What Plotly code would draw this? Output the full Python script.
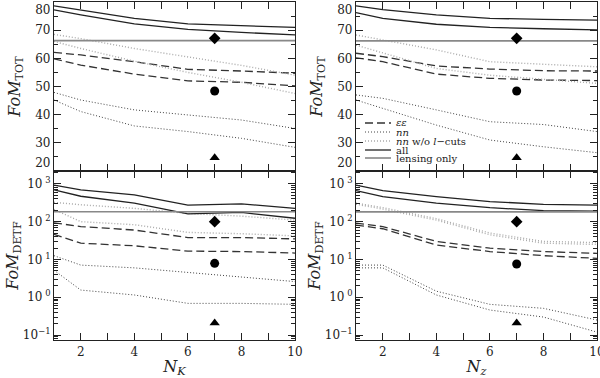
import plotly.graph_objects as go
from plotly.subplots import make_subplots

# ---------------------------------------------------------------
# data (N = 1, 2, 4, 6, 8, 10)
n_bins = [1, 2, 4, 6, 8, 10]
x_marker = [7]

# FoM_TOT vs N_K
tot_k_ee_hi = [62.1, 61.2, 58.8, 56.1, 55.5, 54.7]
tot_k_ee_lo = [59.8, 57.6, 54.4, 52.0, 51.5, 50.2]
tot_k_nn_hi = [47.9, 45.2, 41.7, 39.9, 38.1, 35.1]
tot_k_nn_lo = [45.2, 41.1, 36.0, 34.0, 31.6, 28.4]
tot_k_nnw_hi = [68.5, 67.0, 63.5, 60.5, 57.5, 54.0]
tot_k_nnw_lo = [66.0, 63.5, 59.0, 55.0, 51.5, 47.5]
tot_k_all_hi = [78.6, 77.2, 74.2, 72.2, 71.6, 71.0]
tot_k_all_lo = [77.2, 75.4, 72.2, 70.3, 69.2, 68.3]
tot_k_lens = 66.3

# FoM_TOT vs N_z
tot_z_ee_hi = [61.8, 60.6, 57.3, 56.2, 55.6, 55.5]
tot_z_ee_lo = [60.2, 58.8, 54.4, 52.9, 52.3, 52.1]
tot_z_nn_hi = [47.0, 45.8, 41.7, 37.5, 36.5, 34.0]
tot_z_nn_lo = [45.2, 42.2, 36.3, 31.0, 28.6, 26.5]
tot_z_nnw_hi = [68.3, 66.5, 63.0, 58.8, 58.0, 57.0]
tot_z_nnw_lo = [64.7, 62.0, 56.4, 54.0, 52.5, 51.1]
tot_z_all_hi = [78.6, 77.3, 75.4, 74.2, 73.8, 73.6]
tot_z_all_lo = [76.2, 74.2, 72.1, 71.0, 70.5, 70.1]
tot_z_lens = 66.2

# single-point markers (diamond, circle, triangle) at N = 7
tot_pts = [67.1, 48.4, 24.7]

# FoM_DETF vs N_K
detf_k_ee_hi = [93, 74, 60, 38, 38, 35]
detf_k_ee_lo = [46, 27, 23, 16.6, 16.2, 14.8]
detf_k_nn_hi = [12.6, 7.1, 6.0, 4.6, 3.5, 2.6]
detf_k_nn_lo = [5.2, 1.55, 1.15, 0.69, 0.69, 0.65]
detf_k_nnw_hi = [325, 280, 225, 165, 140, 110]
detf_k_nnw_lo = [210, 100, 83, 52, 48, 42]
detf_k_all_hi = [930, 690, 510, 275, 295, 225]
detf_k_all_lo = [690, 470, 310, 160, 175, 123]
detf_k_lens = 183

# FoM_DETF vs N_z
detf_z_ee_hi = [91, 74, 30, 20, 16.2, 14.5]
detf_z_ee_lo = [81, 65, 24, 16.2, 12.6, 10.7]
detf_z_nn_hi = [7.1, 7.1, 1.45, 0.65, 0.51, 0.25]
detf_z_nn_lo = [6.0, 6.0, 1.15, 0.46, 0.30, 0.12]
detf_z_nnw_hi = [310, 235, 120, 50, 30, 28]
detf_z_nnw_lo = [290, 215, 110, 45, 27, 25]
detf_z_all_hi = [930, 660, 457, 340, 288, 275]
detf_z_all_lo = [660, 457, 310, 234, 195, 190]
detf_z_lens = 182

detf_pts_k = [100, 7.9, 0.21]
detf_pts_z = [100, 7.6, 0.21]

tot_ticks = [20, 30, 40, 50, 60, 70, 80]
tot_ticktext = ["20<br> ", "30", "40", "50", "60", "70", " <br>80"]
detf_ticks = [0.1, 1, 10, 100, 1000]
detf_ticktext = ["10<sup>−1</sup>", "10<sup> 0</sup>", "10<sup> 1</sup>",
                 "10<sup> 2</sup>", "10<sup> 3</sup>"]
x_ticks = [2, 4, 6, 8, 10]

legend_labels = ["<i>εε</i>", "<i>nn</i>", "<i>nn</i> w/o <i>l</i>−cuts",
                 "all", "lensing only"]

# ---------------------------------------------------------------
FONT = "DejaVu Serif"
INK = "#222222"
st_dash = dict(color="#333333", width=1.3, dash="8px,4px")
st_dot = dict(color="#444444", width=1.0, dash="1px,2px")
st_gdot = dict(color="#aaaaaa", width=1.4, dash="1px,2px")
st_all = dict(color=INK, width=1.3)
st_lens = dict(color="#888888", width=1.6)
legend_styles = [st_dash, st_dot, st_gdot, st_all, st_lens]

fig = make_subplots(rows=2, cols=2, vertical_spacing=0, horizontal_spacing=0.1)


def add_panel(r, c, ee, nn, nnw, alls, lens, pts):
    for ys, st in ((ee, st_dash), (nn, st_dot), (nnw, st_gdot), (alls, st_all)):
        for y in ys:
            fig.add_trace(go.Scatter(x=n_bins, y=y, mode="lines", line=st,
                                     showlegend=False, hoverinfo="skip"),
                          row=r, col=c)
    fig.add_trace(go.Scatter(x=[n_bins[0], n_bins[-1]], y=[lens, lens],
                             mode="lines", line=st_lens, showlegend=False),
                  row=r, col=c)
    for y, sym in zip(pts, ["diamond", "circle", "triangle-up"]):
        fig.add_trace(go.Scatter(x=x_marker, y=[y], mode="markers",
                                 marker=dict(symbol=sym, size=9, color="black"),
                                 showlegend=False), row=r, col=c)


add_panel(1, 1, (tot_k_ee_hi, tot_k_ee_lo), (tot_k_nn_hi, tot_k_nn_lo),
          (tot_k_nnw_hi, tot_k_nnw_lo), (tot_k_all_hi, tot_k_all_lo),
          tot_k_lens, tot_pts)
add_panel(1, 2, (tot_z_ee_hi, tot_z_ee_lo), (tot_z_nn_hi, tot_z_nn_lo),
          (tot_z_nnw_hi, tot_z_nnw_lo), (tot_z_all_hi, tot_z_all_lo),
          tot_z_lens, tot_pts)
add_panel(2, 1, (detf_k_ee_hi, detf_k_ee_lo), (detf_k_nn_hi, detf_k_nn_lo),
          (detf_k_nnw_hi, detf_k_nnw_lo), (detf_k_all_hi, detf_k_all_lo),
          detf_k_lens, detf_pts_k)
add_panel(2, 2, (detf_z_ee_hi, detf_z_ee_lo), (detf_z_nn_hi, detf_z_nn_lo),
          (detf_z_nnw_hi, detf_z_nnw_lo), (detf_z_all_hi, detf_z_all_lo),
          detf_z_lens, detf_pts_z)

# ---------------------------------------------------------------
# axes (pixel layout)
W, H = 600, 378
ml, mr, mt, mb = 54, 3, 2, 38
pw, ph = W - ml - mr, H - mt - mb
xl = [0, (295 - ml) / pw]
xr = [(356 - ml) / pw, 1]
ysplit = (H - mb - 171) / ph
yt = [ysplit, 1]
yb = [0, ysplit]

common = dict(showline=True, linecolor=INK, linewidth=1.2, mirror="ticks",
              ticks="inside", tickcolor=INK, showgrid=False, zeroline=False,
              automargin=False, ticklabeloverflow="allow",
              tickfont=dict(family=FONT, size=12, color=INK))

xcommon = dict(common, range=[1, 10], tickvals=x_ticks, ticklen=7,
               minor=dict(dtick=1, ticks="inside", ticklen=7, tickcolor=INK))

fig.update_xaxes(xcommon)
xtitle_font = dict(family=FONT, size=16, color=INK)
fig.update_layout(
    xaxis=dict(domain=xl, showticklabels=False),
    xaxis2=dict(domain=xr, showticklabels=False),
    xaxis3=dict(domain=xl, title=dict(text="<i>N<sub>K</sub></i>", standoff=0,
                                      font=xtitle_font)),
    xaxis4=dict(domain=xr, title=dict(text="<i>N<sub>z</sub></i>", standoff=0,
                                      font=xtitle_font)),
)

ytitle_tot = dict(text="<i>FoM</i><sub>TOT</sub>", standoff=10,
                  font=dict(family=FONT, size=16, color=INK))
ytitle_detf = dict(text="<i>FoM</i><sub>DETF</sub>", standoff=0,
                   font=dict(family=FONT, size=16, color=INK))

ytot = dict(common, range=[20, 80], tickvals=tot_ticks, ticktext=tot_ticktext,
            ticklen=7,
            minor=dict(dtick=5, ticks="inside", ticklen=4, tickcolor=INK))
ydetf = dict(common, type="log", range=[-1.13, 3.34], tickvals=detf_ticks,
             ticktext=detf_ticktext, ticklen=7,
             minor=dict(ticks="inside", ticklen=4, tickcolor=INK, dtick="D1"))

fig.update_layout(
    yaxis=dict(ytot, domain=yt, title=ytitle_tot),
    yaxis2=dict(ytot, domain=yt, title=ytitle_tot),
    yaxis3=dict(ydetf, domain=yb, title=ytitle_detf),
    yaxis4=dict(ydetf, domain=yb, title=ytitle_detf),
)

# legend drawn in the upper-right panel
leg_x0, leg_x1, leg_tx = 365, 391, 394
leg_rows = [123, 132, 141, 150, 158]
for lab, st, py in zip(legend_labels, legend_styles, leg_rows):
    yy = 1 - (py - mt) / ph
    fig.add_shape(type="line", xref="paper", yref="paper",
                  x0=(leg_x0 - ml) / pw, x1=(leg_x1 - ml) / pw, y0=yy, y1=yy,
                  line=st)
    fig.add_annotation(text=lab, xref="paper", yref="paper",
                       x=(leg_tx - ml) / pw, y=yy, xanchor="left", yanchor="middle",
                       showarrow=False,
                       font=dict(family=FONT, size=10, color=INK))

fig.update_layout(
    width=W, height=H,
    margin=dict(l=ml, r=mr, t=mt, b=mb),
    paper_bgcolor="white", plot_bgcolor="white",
    showlegend=False,
    font=dict(family=FONT, color=INK),
)

# the page has a default 8px body margin and may show a scrollbar; remove both
fig.write_html("out.html", config={"displayModeBar": False},
               post_script="document.body.style.margin='0px';"
                           "document.body.style.overflow='hidden';"
                           "document.documentElement.style.overflow='hidden';")
